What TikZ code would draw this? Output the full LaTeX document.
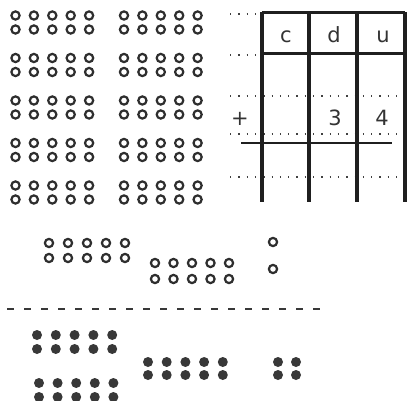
\documentclass[tikz,border=0pt]{standalone}
\usepackage{fontspec}
\newfontfamily\tablefont{DejaVu Sans}

\begin{document}
\begin{tikzpicture}[
      x=1pt, y=-1pt,
      opendot/.style={draw=black!82, line width=2.2pt},
      fulldot/.style={fill=black!78},
      gridline/.style={line width=3.3pt, black!88},
      sumline/.style={line width=1.8pt, black!88},
      guide/.style={black!75, line width=1.3pt, dash pattern=on 1.3pt off 7pt},
      split/.style={black!78, line width=1.6pt, dash pattern=on 7pt off 10pt},
      digit/.style={font=\tablefont\fontsize{21}{21}\selectfont, inner sep=0pt, text=black!80}
    ]
    \useasboundingbox (0,0) rectangle (407,401);

    % tens as open counters (top left)
    \foreach \row in {0,...,4} {
      \foreach \xs in {15.5,124} {
        \foreach \i in {0,...,4} {
          \draw[opendot] (\xs+18.4*\i, 15.5+42.5*\row) circle[radius=4.1pt];
          \draw[opendot] (\xs+18.4*\i, 29.5+42.5*\row) circle[radius=4.1pt];
        }
      }
    }

    % place value table
    \foreach \y in {96,134,177} \draw[guide] (230,\y) -- (407,\y);
    \foreach \y in {14,55} \draw[guide] (230,\y) -- (259,\y);
    \foreach \x in {262,309,357,405} \draw[gridline] (\x,12.5) -- (\x,202);
    \draw[gridline] (262,12.5) -- (405,12.5);
    \draw[gridline] (262,53.5) -- (405,53.5);
    \draw[sumline] (241,143) -- (392,143);

    \node[digit] (c)     at (286,37)  {c};
    \node[digit] (d)     at (334,35)  {d};
    \node[digit] (u)     at (383,37)  {u};
    \node[digit] (plus)  at (240,119) {+};
    \node[digit] (three) at (335,118) {3};
    \node[digit] (four)  at (382,118) {4};

    % open counters (middle)
    \foreach \i in {0,...,4} {
      \draw[opendot] (49+19*\i,243) circle[radius=4.1pt];
      \draw[opendot] (49+19*\i,258) circle[radius=4.1pt];
      \draw[opendot] (155+18.5*\i,263) circle[radius=4.1pt];
      \draw[opendot] (155+18.5*\i,279) circle[radius=4.1pt];
    }
    \draw[opendot] (273,242) circle[radius=4.1pt];
    \draw[opendot] (273,269) circle[radius=4.1pt];

    \draw[split] (7,309) -- (330,309);

    % filled counters (bottom)
    \foreach \i in {0,...,4} {
      \fill[fulldot] (37+18.8*\i,335) circle[radius=5pt];
      \fill[fulldot] (37+18.8*\i,349) circle[radius=5pt];
      \fill[fulldot] (39+18.6*\i,383) circle[radius=5pt];
      \fill[fulldot] (39+18.6*\i,397) circle[radius=5pt];
      \fill[fulldot] (148+18.7*\i,362) circle[radius=5pt];
      \fill[fulldot] (148+18.7*\i,375) circle[radius=5pt];
    }
    \foreach \x in {278,296} {
      \fill[fulldot] (\x,362) circle[radius=5pt];
      \fill[fulldot] (\x,375) circle[radius=5pt];
    }
  \end{tikzpicture}
\end{document}
